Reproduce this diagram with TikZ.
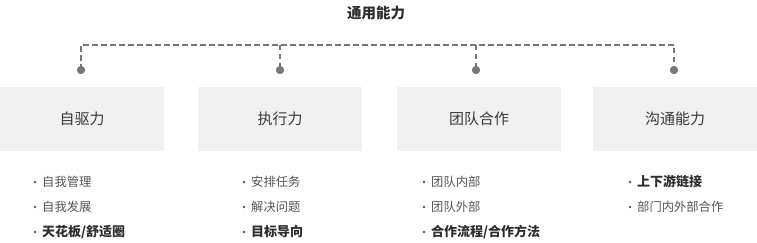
\documentclass[tikz,border=0pt]{standalone}
\usepackage{fontspec}
\setmainfont{Noto Sans CJK SC}
\begin{document}
\begin{tikzpicture}[x=1pt,y=-1pt,
  boxst/.style={fill=boxgray, draw=none, minimum width=164pt, minimum height=64pt, inner sep=0pt, text=labgray, font=\fontsize{15}{17}\selectfont},
  itemst/.style={anchor=west, inner sep=0pt, text=itemgray, font=\fontsize{12.3}{14}\selectfont},
  itembold/.style={itemst, text=boldgray, font=\fontsize{13}{15}\selectfont\bfseries},
  bus/.style={draw=linegray, line width=2pt, dash pattern=on 5.5pt off 3.5pt},
  dotst/.style={circle, fill=linegray, inner sep=0pt, minimum size=8pt},
  bul/.style={circle, fill=itemgray, inner sep=0pt, minimum size=2.8pt}
]
\definecolor{boxgray}{HTML}{F1F1F1}
\definecolor{labgray}{HTML}{3A3A3A}
\definecolor{itemgray}{HTML}{555555}
\definecolor{boldgray}{HTML}{2E2E2E}
\definecolor{linegray}{HTML}{777777}
\useasboundingbox (0,0) rectangle (757,243);

\node[text=boldgray, font=\fontsize{14.5}{16}\selectfont\bfseries] (title) at (376,13) {通用能力};

% boxes
\node[boxst] (b1) at (82,119) {自驱力};
\node[boxst] (b2) at (280,119) {执行力};
\node[boxst] (b3) at (479,119) {团队合作};
\node[boxst] (b4) at (675,119) {沟通能力};

% bus
\coordinate (t1) at (81,45);
\coordinate (t2) at (280,45);
\coordinate (t3) at (476,45);
\coordinate (t4) at (674,45);
\node[dotst] (d1) at (81,70) {};
\node[dotst] (d2) at (280,70) {};
\node[dotst] (d3) at (476,70) {};
\node[dotst] (d4) at (674,70) {};
\draw[bus] (d1.center) -- (t1) -- (t4) -- (d4.center);
\draw[bus] (t2) -- (d2.center);
\draw[bus] (t3) -- (d3.center);
\node[dotst] at (d1) {};
\node[dotst] at (d2) {};
\node[dotst] at (d3) {};
\node[dotst] at (d4) {};

% column 1
\node[bul] (p11) at (35,182) {};
\node[itemst] (i11) at (42,182) {自我管理};
\node[bul] (p12) at (35,207) {};
\node[itemst] (i12) at (42,207) {自我发展};
\node[bul] (p13) at (35,232) {};
\node[itembold] (i13) at (42,232) {天花板/舒适圈};
% column 2
\node[bul] (p21) at (244,182) {};
\node[itemst] (i21) at (251,182) {安排任务};
\node[bul] (p22) at (244,207) {};
\node[itemst] (i22) at (251,207) {解决问题};
\node[bul] (p23) at (244,232) {};
\node[itembold] (i23) at (251,232) {目标导向};
% column 3
\node[bul] (p31) at (424,182) {};
\node[itemst] (i31) at (431,182) {团队内部};
\node[bul] (p32) at (424,207) {};
\node[itemst] (i32) at (431,207) {团队外部};
\node[bul] (p33) at (424,232) {};
\node[itembold] (i33) at (431,232) {合作流程/合作方法};
% column 4
\node[bul] (p41) at (630,182) {};
\node[itembold] (i41) at (637,182) {上下游链接};
\node[bul] (p42) at (630,207) {};
\node[itemst] (i42) at (637,207) {部门内外部合作};
\end{tikzpicture}
\end{document}
